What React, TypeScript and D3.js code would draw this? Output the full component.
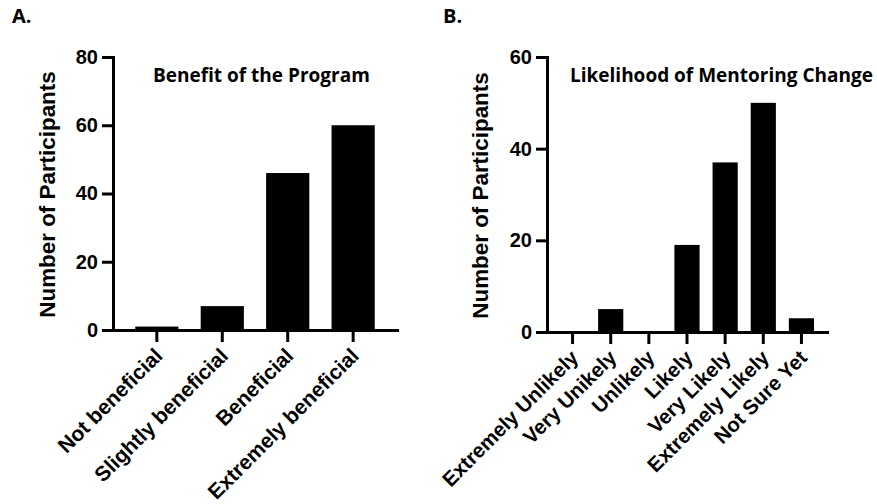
import * as d3 from 'd3'
import React, { useEffect, useRef } from 'react'

// panel A: benefit of the program
const benefitCategories = ['Not beneficial', 'Slightly beneficial', 'Beneficial', 'Extremely beneficial']
const benefitValues = [1, 7, 46, 60]
const benefitTicks = [0, 20, 40, 60, 80]

// panel B: likelihood of mentoring change
const likelihoodCategories = [
  'Extremely Unlikely',
  'Very Unikely',
  'Unlikely',
  'Likely',
  'Very Likely',
  'Extremely Likely',
  'Not Sure Yet',
]
const likelihoodValues = [0, 5, 0, 19, 37, 50, 3]
const likelihoodTicks = [0, 20, 40, 60]

const AXIS_FONT = '"Liberation Sans", Arial, sans-serif'
const TITLE_FONT = '"Open Sans", Lato, sans-serif'

const panels = [
  {
    letter: 'A.',
    letterX: 12,
    title: 'Benefit of the Program',
    titleX: 153,
    categories: benefitCategories,
    values: benefitValues,
    ticks: benefitTicks,
    left: 113,
    right: 397,
    top: 57,
    bottom: 330,
    labelX: 55,
    labelSize: 21,
  },
  {
    letter: 'B.',
    letterX: 443,
    title: 'Likelihood of Mentoring Change',
    titleX: 570,
    categories: likelihoodCategories,
    values: likelihoodValues,
    ticks: likelihoodTicks,
    left: 547,
    right: 827,
    top: 57,
    bottom: 332,
    labelX: 488,
    labelSize: 20.5,
  },
]

const drawPanel = (g, p) => {
  const data = p.categories.map((c, i) => ({ label: c, value: p.values[i] }))
  const x = d3
    .scaleBand()
    .domain(p.categories)
    .range([p.left, p.right])
    .paddingInner(0.34)
    .paddingOuter(0.34)
  const y = d3
    .scaleLinear()
    .domain([0, d3.max(p.ticks)])
    .range([p.bottom, p.top])

  g.append('g')
    .selectAll('rect')
    .data(data)
    .join('rect')
    .attr('x', d => x(d.label))
    .attr('y', d => y(d.value))
    .attr('width', x.bandwidth())
    .attr('height', d => p.bottom - y(d.value))
    .attr('fill', '#000')

  const yAxis = g
    .append('g')
    .attr('transform', `translate(${p.left},0)`)
    .call(d3.axisLeft(y).tickValues(p.ticks).tickSize(11).tickSizeOuter(0).tickPadding(4))

  const xAxis = g
    .append('g')
    .attr('transform', `translate(0,${p.bottom})`)
    .call(d3.axisBottom(x).tickSize(12).tickSizeOuter(0).tickFormat(''))

  ;[yAxis, xAxis].forEach(a => {
    a.selectAll('path, line').attr('stroke', '#000').attr('stroke-width', 3)
    a.select('.domain').attr('stroke-linecap', 'square')
  })

  yAxis
    .selectAll('text')
    .attr('font-family', AXIS_FONT)
    .attr('font-weight', 'bold')
    .attr('font-size', 20)
    .attr('fill', '#000')

  xAxis.selectAll('.tick text').remove()
  xAxis
    .selectAll('.tick')
    .append('text')
    .attr('transform', 'translate(7,27) rotate(-45)')
    .attr('text-anchor', 'end')
    .attr('font-family', AXIS_FONT)
    .attr('font-weight', 'bold')
    .attr('font-size', p.labelSize)
    .attr('fill', '#000')
    .text(d => d)

  g.append('text')
    .attr('transform', `translate(${p.labelX},${(p.top + p.bottom) / 2 + 1}) rotate(-90)`)
    .attr('text-anchor', 'middle')
    .attr('font-family', AXIS_FONT)
    .attr('font-weight', 'bold')
    .attr('font-size', 22.4)
    .text('Number of Participants')

  g.append('text')
    .attr('x', p.titleX)
    .attr('y', 82)
    .attr('font-family', TITLE_FONT)
    .attr('font-weight', 'bold')
    .attr('font-size', 19)
    .text(p.title)

  g.append('text')
    .attr('x', p.letterX)
    .attr('y', 23)
    .attr('font-family', TITLE_FONT)
    .attr('font-weight', 'bold')
    .attr('font-size', 20)
    .text(p.letter)
}

export default function App() {
  const ref = useRef(null)

  useEffect(() => {
    const svg = d3.select(ref.current)
    svg.selectAll('*').remove()
    panels.forEach(p => drawPanel(svg.append('g'), p))
  }, [])

  return (
    <svg
      ref={ref}
      width={877}
      height={504}
      style={{ position: 'absolute', left: 0, top: 0, background: '#fff' }}
    />
  )
}
